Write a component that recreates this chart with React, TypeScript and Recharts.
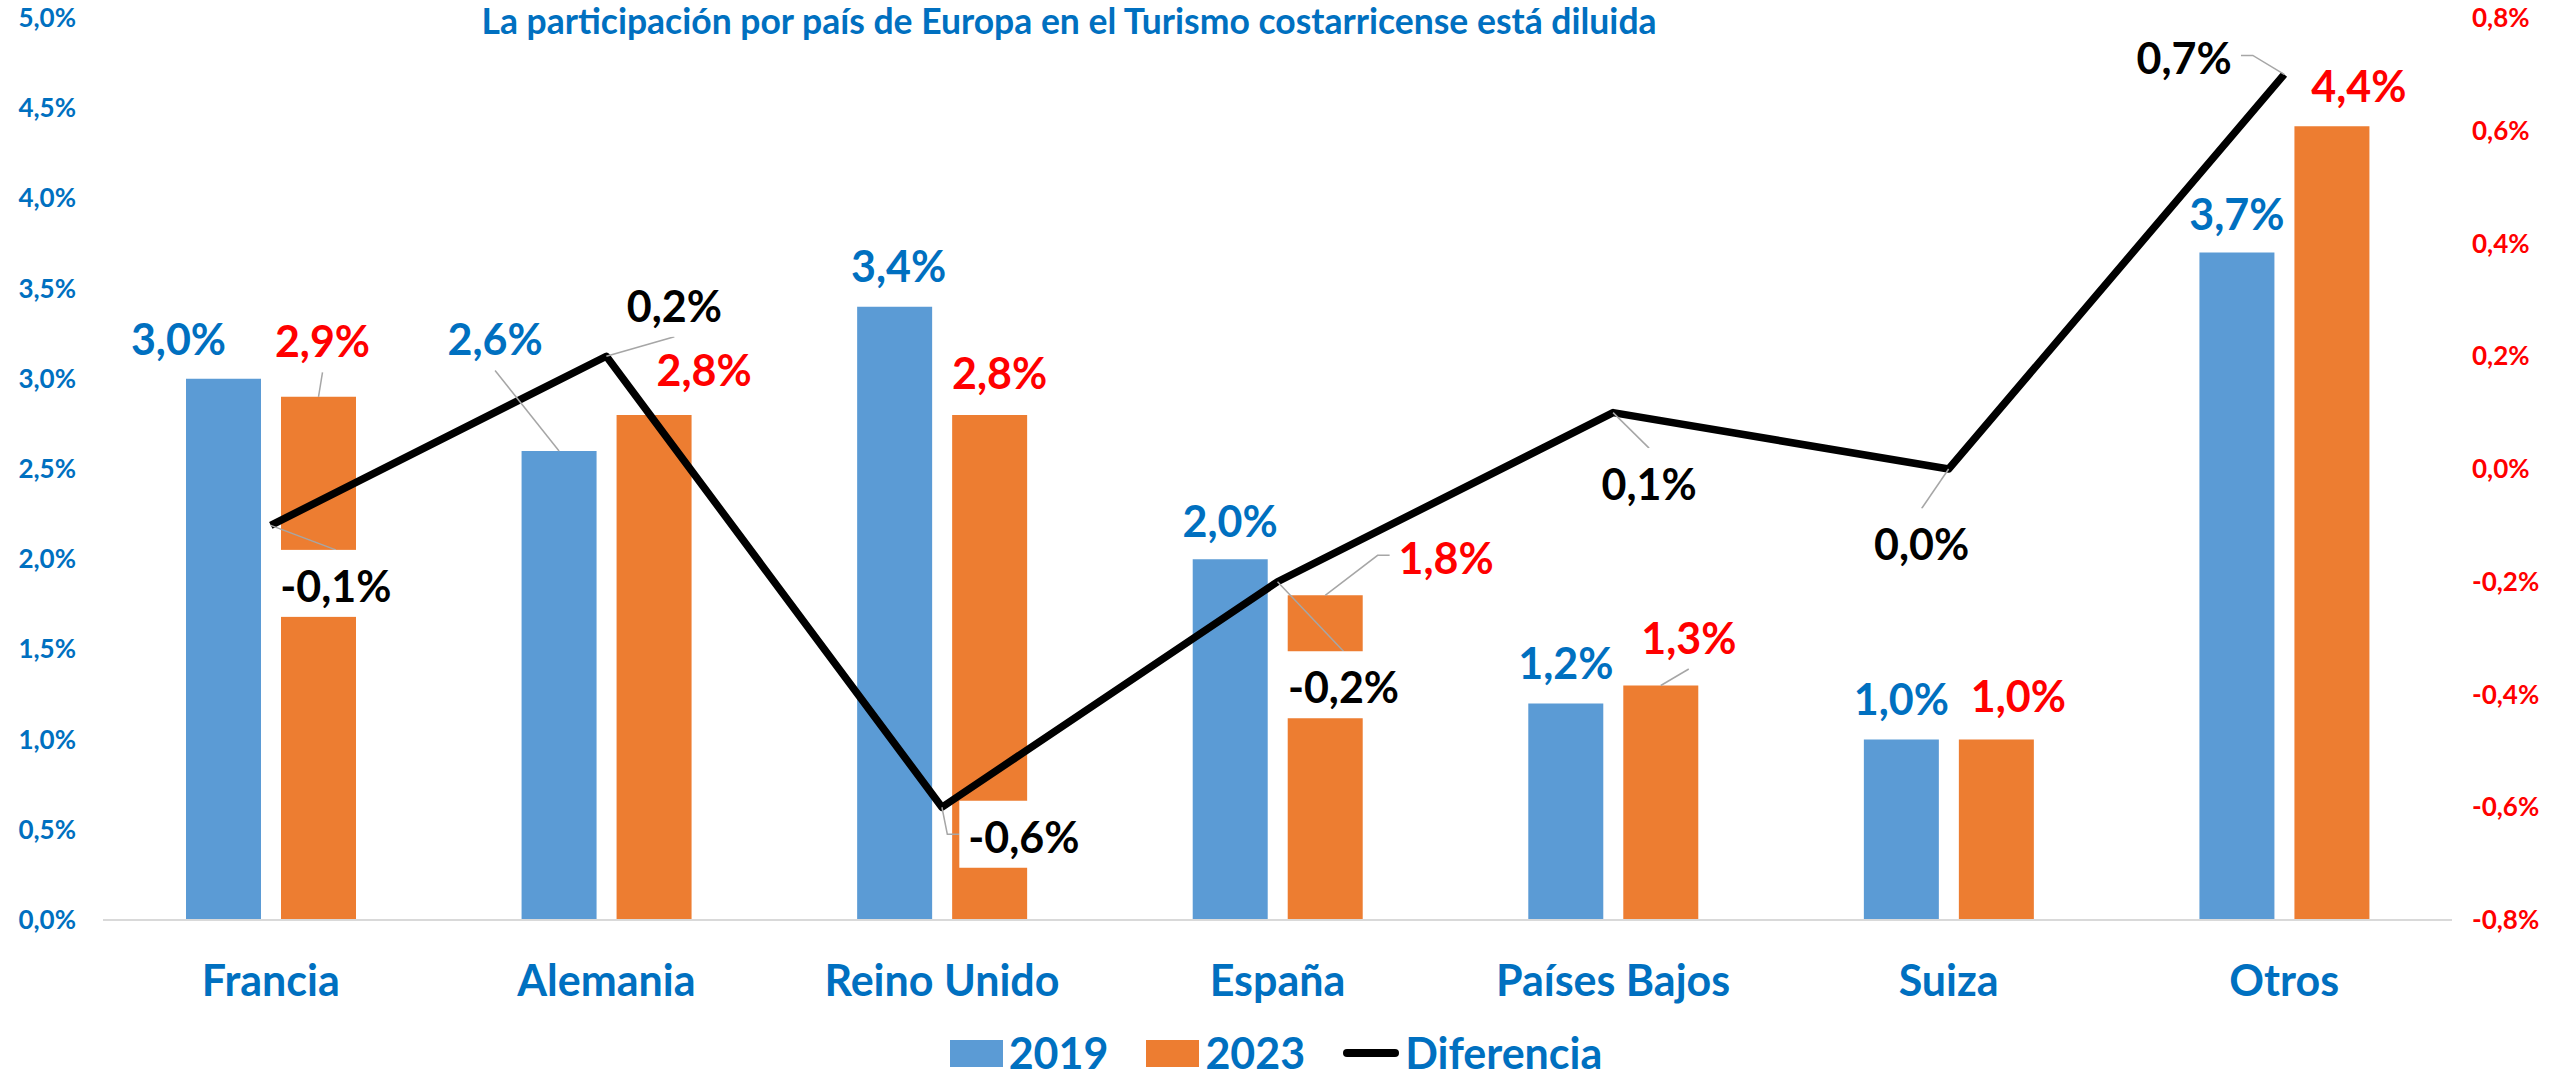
import {
  ComposedChart,
  Bar,
  Line,
  XAxis,
  YAxis,
  Legend,
  LabelList,
} from "recharts";

const categories = ["Francia", "Alemania", "Reino Unido", "España", "Países Bajos", "Suiza", "Otros"];
const share2019 = [3.0, 2.6, 3.4, 2.0, 1.2, 1.0, 3.7];
const share2023 = [2.9, 2.8, 2.8, 1.8, 1.3, 1.0, 4.4];
const diferencia = [-0.1, 0.2, -0.6, -0.2, 0.1, 0.0, 0.7];
const leftTicks = [0, 0.5, 1, 1.5, 2, 2.5, 3, 3.5, 4, 4.5, 5];
const rightTicks = [-0.8, -0.6, -0.4, -0.2, 0, 0.2, 0.4, 0.6, 0.8];

const TITLE = "La participación por país de Europa en el Turismo costarricense está diluida";

// where Excel put each data label (text centre relative to the mark) and its leader line
const labels2019 = [
  { dx: -45, dy: -39 }, { dx: -64, dy: -111, leader: "v" }, { dx: 4, dy: -40 }, { dx: 0, dy: -38 },
  { dx: 0, dy: -40 }, { dx: 0, dy: -40 }, { dx: 0, dy: -38 },
];
const labels2023 = [
  { dx: 4, dy: -55, leader: "v" }, { dx: 50, dy: -44 }, { dx: 10, dy: -41 }, { dx: 121, dy: -37, leader: "h" },
  { dx: 28, dy: -47, leader: "v" }, { dx: 22, dy: -43 }, { dx: 27, dy: -40 },
];
const labelsDiff = [
  { dx: 65, dy: 61, leader: "v" }, { dx: 68, dy: -50, leader: "v" }, { dx: 82, dy: 30, leader: "h" },
  { dx: 66, dy: 106, leader: "v" }, { dx: 36, dy: 72, leader: "v" }, { dx: -27, dy: 76, leader: "v" },
  { dx: -100, dy: -16, leader: "h" },
];

const data = categories.map((name, i) => ({
  name,
  y2019: share2019[i],
  y2023: share2023[i],
  diferencia: diferencia[i],
}));

const FONT = "Lato, 'Open Sans', sans-serif";
const BLUE_TEXT = "#0070C0";
const RED = "#FF0000";
const LEADER = "#A6A6A6";

const pct = (v: number) => Number(v).toFixed(1).replace(".", ",") + "%";

let ctx: CanvasRenderingContext2D | null = null;
const textWidth = (s: string, size: number) => {
  if (!ctx && typeof document !== "undefined") ctx = document.createElement("canvas").getContext("2d");
  if (!ctx) return s.length * size * 0.55;
  ctx.font = `bold ${size}px Lato`;
  return ctx.measureText(s).width;
};

const makeLabel = (layout: any[], color: string, boxed: boolean, isBar: boolean) => (props: any) => {
  const vb = props.viewBox || {};
  const x = props.x ?? vb.x;
  const y = props.y ?? vb.y;
  const w = props.width ?? vb.width ?? 0;
  const i = props.index;
  const conf = layout[i];
  if (!conf || x == null || y == null) return null;
  const ax = isBar ? x + w / 2 : x;
  const ay = y;
  const size = 43;
  const txt = pct(props.value);
  const tw = textWidth(txt, size);
  const cx = ax + conf.dx;
  const cy = ay + conf.dy;
  const bw = tw + 18;
  const bh = 67;
  const bcy = cy - 3;
  const left = cx - bw / 2;
  const right = cx + bw / 2;
  let leader = null;
  if (conf.leader === "v") {
    const ty = ay > bcy ? bcy + bh / 2 : bcy - bh / 2;
    leader = <line x1={ax} y1={ay} x2={cx} y2={ty} stroke={LEADER} strokeWidth={1.5} />;
  } else if (conf.leader === "h") {
    const side = ax < cx ? left : right;
    const elbow = ax < cx ? side - 12 : side + 12;
    leader = (
      <polyline points={`${ax},${ay} ${elbow},${bcy} ${side},${bcy}`} fill="none" stroke={LEADER} strokeWidth={1.5} />
    );
  }
  return (
    <g>
      {leader}
      {boxed && <rect x={left} y={bcy - bh / 2} width={bw} height={bh} fill="#fff" />}
      <text x={cx} y={cy + size * 0.358} textAnchor="middle" fill={color} fontFamily={FONT} fontWeight={700} fontSize={size}>
        {txt}
      </text>
    </g>
  );
};

const CategoryTick = ({ x, y, payload }: any) => (
  <text x={x} y={y + 76} textAnchor="middle" fill={BLUE_TEXT} fontFamily={FONT} fontWeight={700} fontSize={43}>
    {payload.value}
  </text>
);

const LeftTick = ({ x, y, payload }: any) => (
  <text x={x - 27} y={y + 9} textAnchor="end" fill={BLUE_TEXT} fontFamily={FONT} fontWeight={700} fontSize={26}>
    {pct(payload.value)}
  </text>
);

const RightTick = ({ x, y, payload }: any) => (
  <text x={x + 20} y={y + 9} textAnchor="start" fill={RED} fontFamily={FONT} fontWeight={700} fontSize={26}>
    {pct(payload.value)}
  </text>
);

const LegendContent = ({ payload }: any) => (
  <div
    style={{
      display: "flex",
      justifyContent: "center",
      alignItems: "center",
      height: 50,
      lineHeight: "50px",
      fontFamily: FONT,
      fontWeight: 700,
      fontSize: 43,
      color: BLUE_TEXT,
    }}
  >
    {(payload || []).map((p: any, i: number) => (
      <div key={i} style={{ display: "flex", alignItems: "center", marginRight: i < payload.length - 1 ? 38 : 0 }}>
        {p.type === "line" ? (
          <div style={{ width: 56, height: 8, borderRadius: 4, background: p.color, marginRight: 6 }} />
        ) : (
          <div style={{ width: 53, height: 27, background: p.color, marginRight: 6 }} />
        )}
        <span>{p.value}</span>
      </div>
    ))}
  </div>
);

export default function App() {
  return (
    <div style={{ position: "absolute", left: 0, top: 0, background: "#fff" }}>
      <ComposedChart
        width={2552}
        height={1074}
        data={data}
        margin={{ top: 18, right: 0, bottom: 0, left: 0 }}
        barGap={20}
      >
        <text x={1069} y={34} textAnchor="middle" fill={BLUE_TEXT} fontFamily={FONT} fontWeight={700} fontSize={35.5}>
          {TITLE}
        </text>
        <XAxis
          dataKey="name"
          height={154}
          tickSize={0}
          tickMargin={0}
          axisLine={{ stroke: "#D9D9D9", strokeWidth: 2 }}
          tickLine={false}
          tick={<CategoryTick />}
          interval={0}
        />
        <YAxis
          yAxisId="left"
          width={103}
          domain={[0, 5]}
          ticks={leftTicks}
          axisLine={false}
          tickLine={false}
          tickSize={0}
          tickMargin={0}
          tick={<LeftTick />}
          interval={0}
        />
        <YAxis
          yAxisId="right"
          orientation="right"
          width={100}
          domain={[-0.8, 0.8]}
          ticks={rightTicks}
          axisLine={false}
          tickLine={false}
          tickSize={0}
          tickMargin={0}
          tick={<RightTick />}
          interval={0}
        />
        <Legend
          layout="horizontal"
          verticalAlign="middle"
          align="center"
          wrapperStyle={{ top: 1028, left: 0, width: 2552, bottom: "auto" }}
          content={<LegendContent />}
        />
        <Bar yAxisId="left" dataKey="y2019" name="2019" fill="#5B9BD5" barSize={75} legendType="rect" isAnimationActive={false}>
          <LabelList dataKey="y2019" content={makeLabel(labels2019, BLUE_TEXT, false, true)} />
        </Bar>
        <Bar yAxisId="left" dataKey="y2023" name="2023" fill="#ED7D31" barSize={75} legendType="rect" isAnimationActive={false}>
          <LabelList dataKey="y2023" content={makeLabel(labels2023, RED, false, true)} />
        </Bar>
        <Line
          yAxisId="right"
          dataKey="diferencia"
          name="Diferencia"
          type="linear"
          stroke="#000"
          strokeWidth={7.5}
          strokeLinejoin="round"
          dot={false}
          activeDot={false}
          legendType="line"
          isAnimationActive={false}
        >
          <LabelList dataKey="diferencia" content={makeLabel(labelsDiff, "#000", true, false)} />
        </Line>
      </ComposedChart>
    </div>
  );
}
